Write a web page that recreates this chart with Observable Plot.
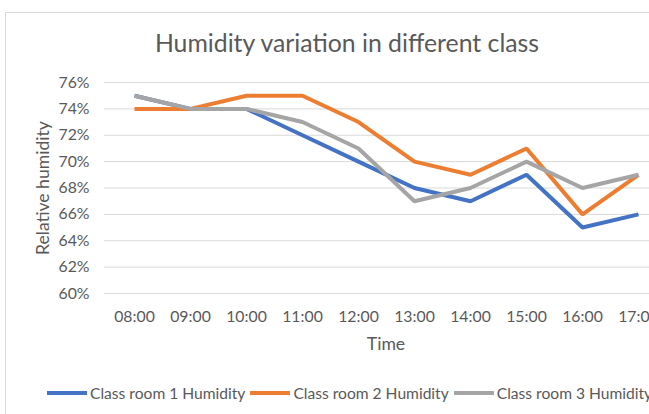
<!DOCTYPE html>
<html><head><meta charset="utf-8">
<script src="https://cdn.jsdelivr.net/npm/d3@7"></script>
<script src="https://cdn.jsdelivr.net/npm/@observablehq/plot@0.6"></script>
<style>
html,body{margin:0;padding:0;background:#fff;width:649px;height:414px;overflow:hidden;font-family:Lato,"Open Sans",sans-serif;}
#wrap{position:relative;width:649px;height:414px;overflow:hidden;}
#border{position:absolute;left:5px;top:12px;width:700px;height:500px;border:1px solid #D9D9D9;box-sizing:border-box;}
#title{position:absolute;left:0;width:694px;top:28px;text-align:center;font-size:24.8px;color:#595959;white-space:nowrap;}
#chart{position:absolute;left:0;top:60px;width:700px;}
#legend{position:absolute;left:47px;top:383px;height:20px;font-size:15.6px;line-height:20px;color:#595959;white-space:nowrap;display:flex;align-items:center;}
#legend .sw{display:inline-block;width:40px;height:4px;margin-right:3px;}
#legend .it{display:flex;align-items:center;margin-right:5px;}
</style></head>
<body>
<div id="wrap">
<div id="border"></div>
<div id="title">Humidity variation in different class</div>
<div id="chart"></div>
<div id="legend"></div>
</div>
<script>
const times = ["08:00","09:00","10:00","11:00","12:00","13:00","14:00","15:00","16:00","17:00"];
const seriesNames = ["Class room 1 Humidity","Class room 2 Humidity","Class room 3 Humidity"];
const room1 = [75,74,74,72,70,68,67,69,65,66];
const room2 = [74,74,75,75,73,70,69,71,66,69];
const room3 = [75,74,74,73,71,67,68,70,68,69];
const colors = ["#4472C4","#ED7D31","#A5A5A5"];
const yTicks = [60,62,64,66,68,70,72,74,76];

const data = [];
[room1, room2, room3].forEach((arr, si) => arr.forEach((v, i) => data.push({time: times[i], value: v, series: seriesNames[si]})));

const plot = Plot.plot({
  width: 700,
  height: 300,
  marginTop: 22,
  marginBottom: 67,
  marginLeft: 104,
  marginRight: 33,
  style: {fontFamily: "Lato, 'Open Sans', sans-serif", fontSize: "15.8px", color: "#595959", background: "transparent", maxWidth: "none"},
  x: {type: "point", domain: times, padding: 0.5, label: null},
  y: {domain: [60, 76], label: null},
  color: {domain: seriesNames, range: colors},
  marks: [
    Plot.gridY(yTicks, {stroke: "#D9D9D9", strokeOpacity: 1, strokeWidth: 1}),
    Plot.axisY(yTicks, {tickSize: 0, tickPadding: 15, tickFormat: d => d + "%", label: null}),
    Plot.axisX({tickSize: 0, tickPadding: 17, label: null}),
    Plot.text(["Relative humidity"], {frameAnchor: "left", dx: -61, rotate: -90, textAnchor: "middle", fontSize: 17.6, fill: "#595959"}),
    Plot.text(["Time"], {frameAnchor: "bottom", dy: 56, fontSize: 17.6, fill: "#595959"}),
    Plot.line(data, {x: "time", y: "value", z: "series", stroke: "series", strokeWidth: 4, strokeLinejoin: "miter", strokeLinecap: "butt"})
  ]
});
document.getElementById("chart").appendChild(plot);

const lg = document.getElementById("legend");
seriesNames.forEach((n, i) => {
  const it = document.createElement("span"); it.className = "it";
  const sw = document.createElement("span"); sw.className = "sw"; sw.style.background = colors[i];
  it.appendChild(sw); it.appendChild(document.createTextNode(n));
  lg.appendChild(it);
});
</script>
</body></html>
